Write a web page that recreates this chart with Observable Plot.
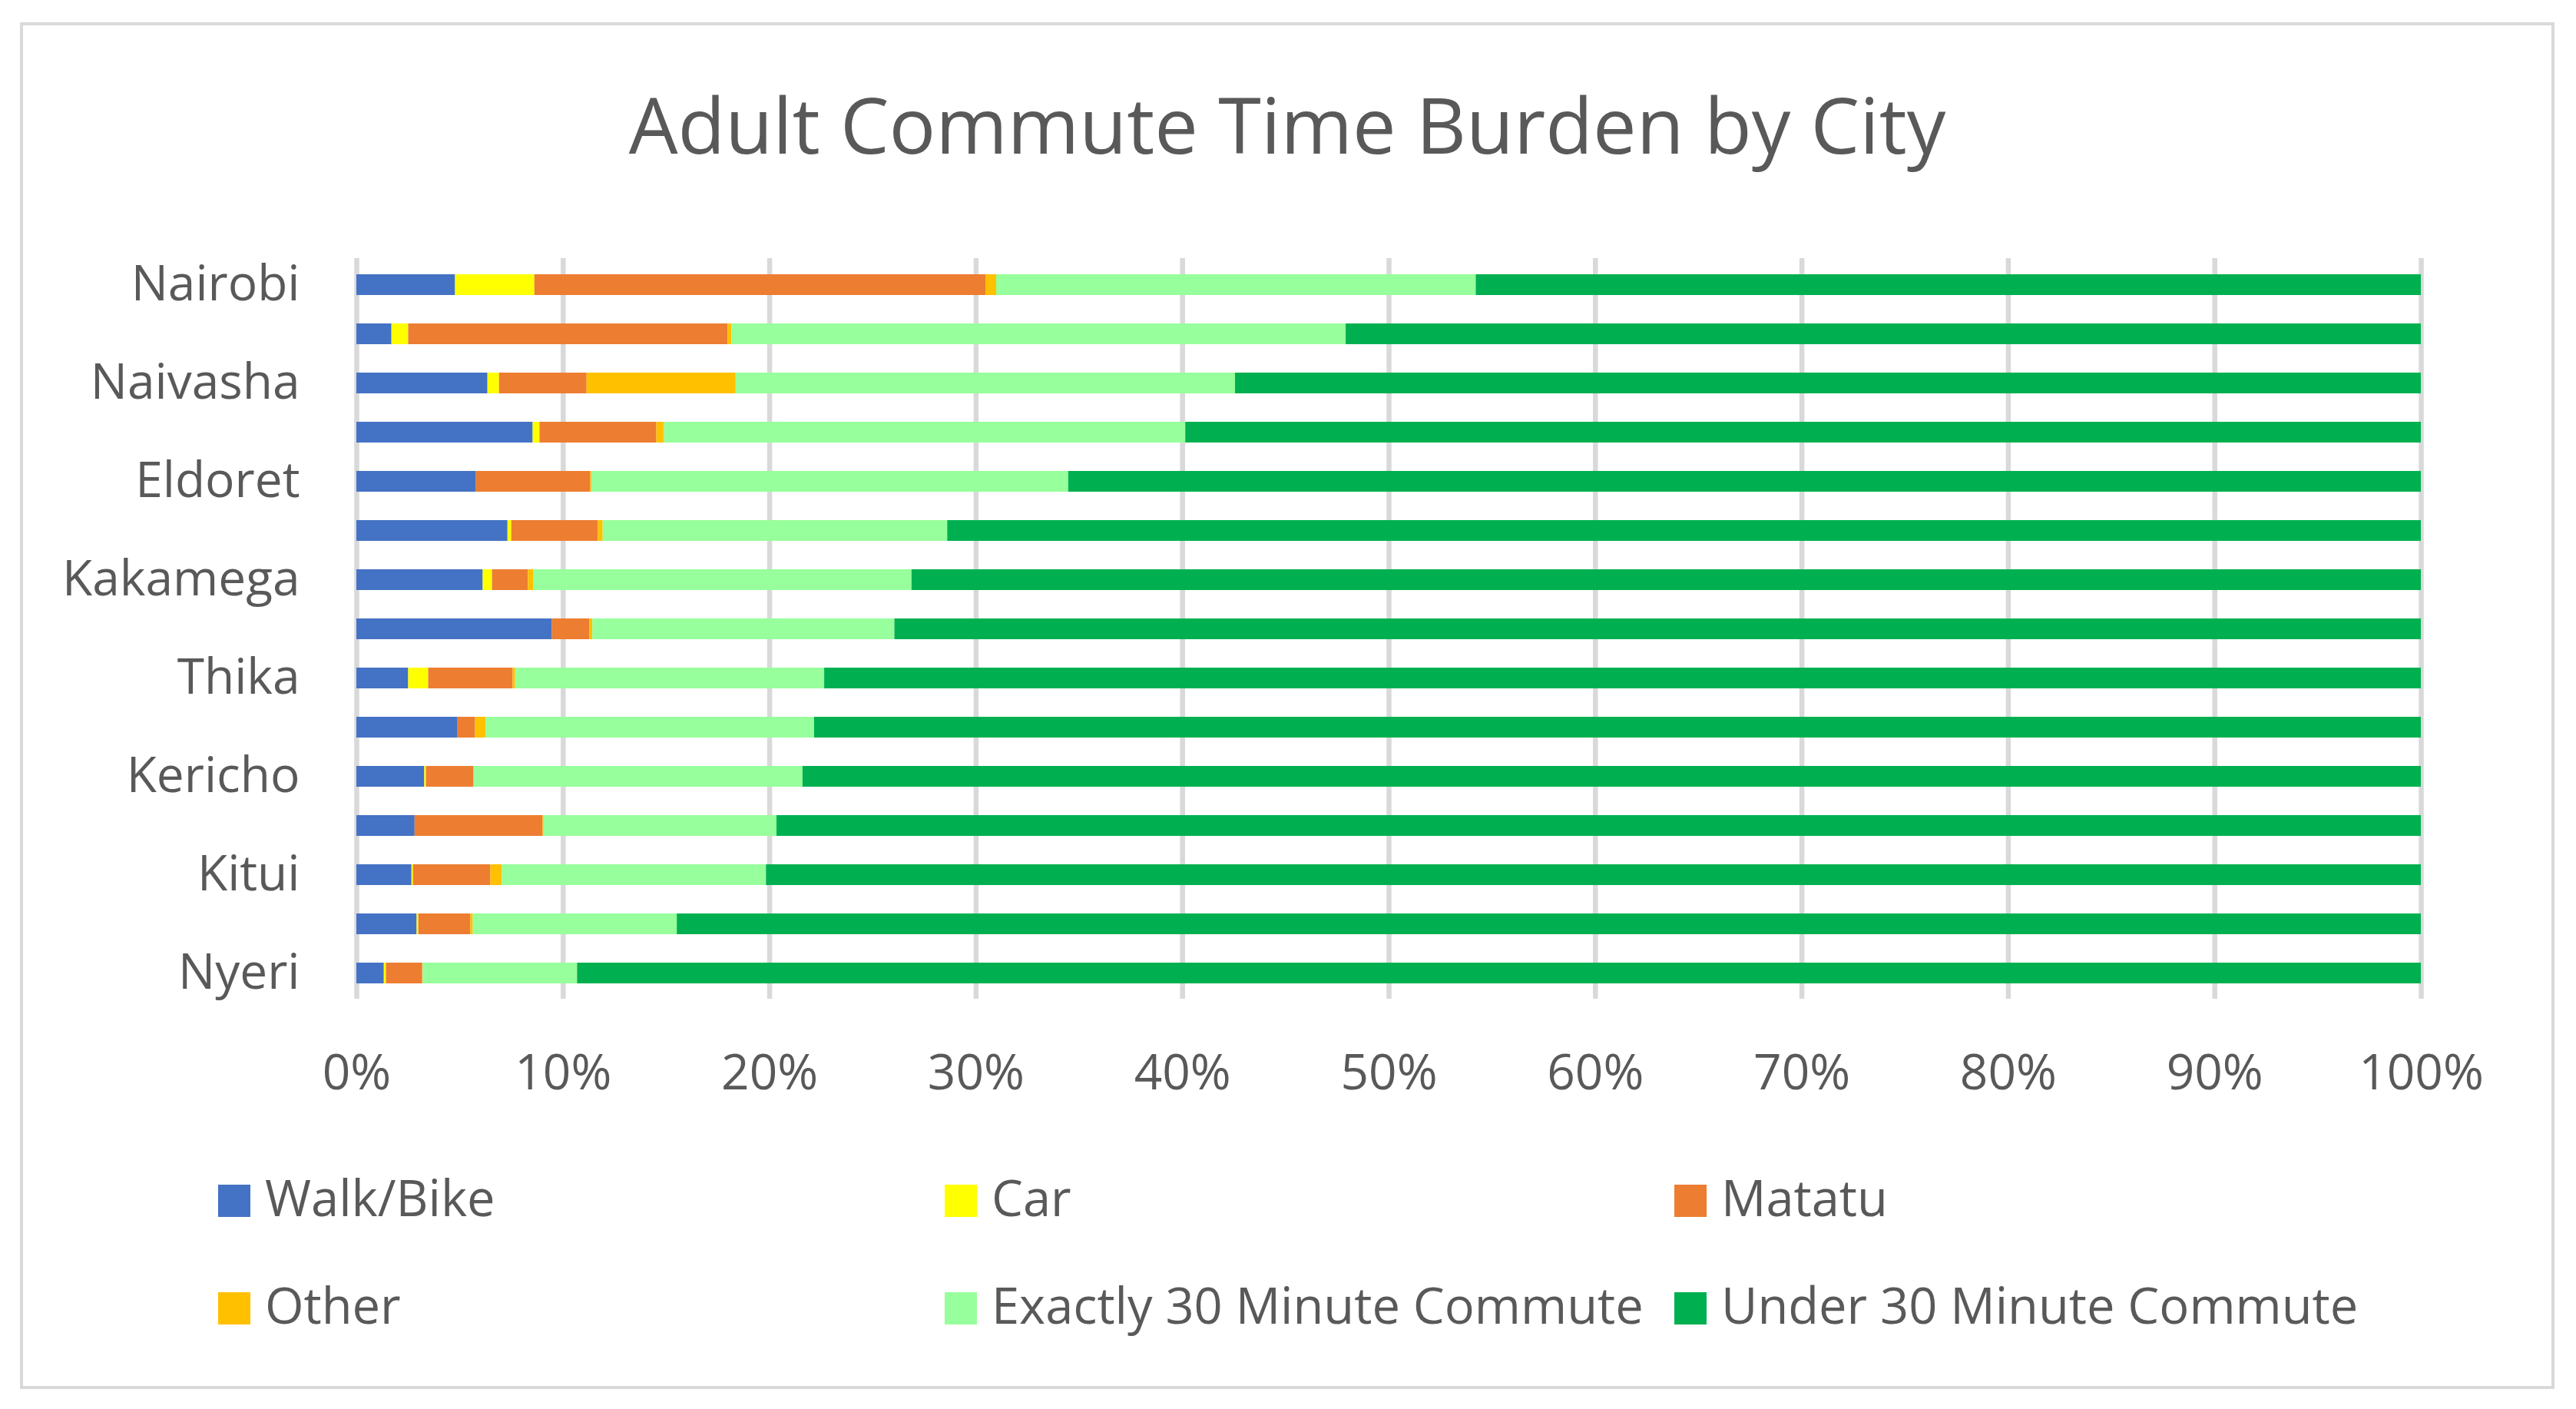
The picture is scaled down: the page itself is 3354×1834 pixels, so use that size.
<!DOCTYPE html>
<html>
<head>
<meta charset="utf-8">
<script src="https://cdn.jsdelivr.net/npm/d3@7"></script>
<script src="https://cdn.jsdelivr.net/npm/@observablehq/plot@0.6"></script>
<style>
  html, body { margin: 0; padding: 0; background: #ffffff; }
  body { width: 3354px; height: 1834px; position: relative; overflow: hidden; font-family: "Open Sans", sans-serif; color: #595959; }
  #frame { position: absolute; left: 26px; top: 29px; width: 3300px; height: 1779px; border: 4px solid #d9d9d9; box-sizing: border-box; }
  #title { position: absolute; left: 26px; width: 3300px; top: 111px; text-align: center; font-size: 101px; line-height: 101px; white-space: nowrap; }
  #chart { position: absolute; left: 0; top: 300px; }
  .lg-sw { position: absolute; width: 42px; height: 42px; }
  .lg-tx { position: absolute; font-size: 65px; line-height: 65px; white-space: nowrap; }
</style>
</head>
<body>
<div id="frame"></div>
<div id="title">Adult Commute Time Burden by City</div>
<div id="chart"></div>
<div id="legend"></div>
<script>
// ---- data (percent of adults) ----
const cities = [
  "Nairobi", "(unlabelled row 2)", "Naivasha", "(unlabelled row 4)", "Eldoret",
  "(unlabelled row 6)", "Kakamega", "(unlabelled row 8)", "Thika", "(unlabelled row 10)",
  "Kericho", "(unlabelled row 12)", "Kitui", "(unlabelled row 14)", "Nyeri"
];
const labeledCities = ["Nairobi", "Naivasha", "Eldoret", "Kakamega", "Thika", "Kericho", "Kitui", "Nyeri"];
const seriesNames = ["Walk/Bike", "Car", "Matatu", "Other", "Exactly 30 Minute Commute", "Under 30 Minute Commute"];
const walkBike = [4.78, 1.70, 6.35, 8.54, 5.79, 7.32, 6.12, 9.47, 2.51, 4.90, 3.29, 2.82, 2.67, 2.92, 1.33];
const car      = [3.84, 0.81, 0.56, 0.33, 0.00, 0.18, 0.45, 0.00, 0.97, 0.00, 0.08, 0.00, 0.07, 0.08, 0.10];
const matatu   = [21.85, 15.47, 4.24, 5.66, 5.54, 4.20, 1.74, 1.82, 4.09, 0.85, 2.30, 6.20, 3.75, 2.52, 1.76];
const other    = [0.52, 0.19, 7.22, 0.37, 0.05, 0.23, 0.27, 0.14, 0.12, 0.52, 0.02, 0.05, 0.56, 0.12, 0.02];
const exactly30 = [23.23, 29.75, 24.19, 25.25, 23.10, 16.69, 18.31, 14.63, 14.97, 15.90, 15.92, 11.28, 12.79, 9.88, 7.48];
const under30  = [45.78, 52.08, 57.44, 59.85, 65.52, 71.38, 73.11, 73.94, 77.34, 77.83, 78.39, 79.65, 80.16, 84.48, 89.31];
const xTicks = [0, 10, 20, 30, 40, 50, 60, 70, 80, 90, 100];

// ---- styles ----
const seriesColors = ["#4472C4", "#FFFF00", "#ED7D31", "#FFC000", "#97FF9B", "#00B050"];

const seriesValues = [walkBike, car, matatu, other, exactly30, under30];
const rows = cities.flatMap((city, i) =>
  seriesNames.map((s, j) => ({city, series: s, value: seriesValues[j][i]}))
);

const W = 3354, H = 1160;
const chart = Plot.plot({
  width: W,
  height: H,
  marginLeft: 464,
  marginRight: 202,
  marginTop: 36,
  marginBottom: 160,
  style: {fontFamily: "Open Sans, sans-serif", fontSize: "64px", color: "#595959", background: "transparent", overflow: "visible"},
  x: {domain: [0, 100], ticks: xTicks, tickFormat: d => d + "%", tickSize: 0, tickPadding: 72, label: null},
  y: {domain: cities, paddingInner: 0.58, paddingOuter: 0.29, ticks: labeledCities, tickSize: 0, tickPadding: 74, label: null},
  color: {domain: seriesNames, range: seriesColors},
  marks: [
    Plot.ruleX(xTicks, {stroke: "#d9d9d9", strokeWidth: 6.5}),
    Plot.barX(rows, Plot.stackX({x: "value", y: "city", fill: "series", order: seriesNames}))
  ]
});
document.getElementById("chart").appendChild(chart);

// ---- legend ----
const legendCols = [284, 1230, 2180];
const legendBaselines = [1584, 1724];
const legend = document.getElementById("legend");
seriesNames.forEach((name, k) => {
  const col = k % 3, row = Math.floor(k / 3);
  const x = legendCols[col], base = legendBaselines[row];
  const sw = document.createElement("div");
  sw.className = "lg-sw";
  sw.style.left = x + "px";
  sw.style.top = (base - 42) + "px";
  sw.style.background = seriesColors[k];
  legend.appendChild(sw);
  const tx = document.createElement("div");
  tx.className = "lg-tx";
  tx.style.left = (x + 61) + "px";
  tx.style.top = (base - 58) + "px";
  tx.textContent = name;
  legend.appendChild(tx);
});
</script>
</body>
</html>
